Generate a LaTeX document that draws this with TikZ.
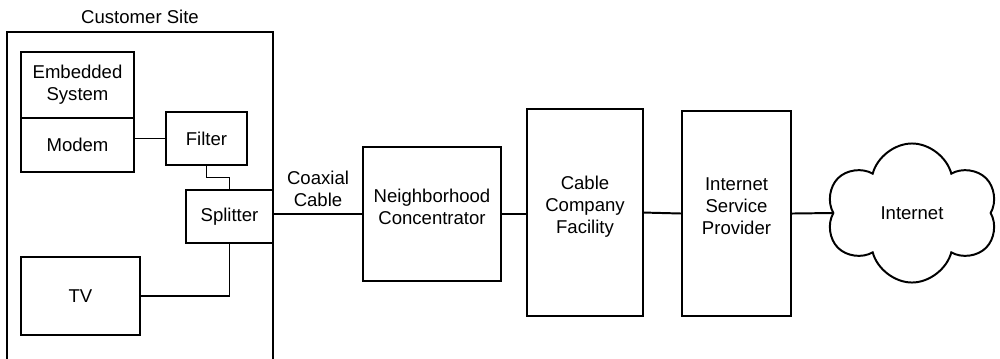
\documentclass[tikz,border=0pt]{standalone}
\usepackage{fontspec}
\setmainfont{Liberation Sans}
\usetikzlibrary{positioning, calc, shapes.symbols}

\begin{document}
\begin{tikzpicture}[
        x=0.025cm, y=-0.025cm,
        line width=1.4pt,
        every node/.style={font=\fontsize{13.2}{15.8}\selectfont},
        box/.style={rectangle, draw, outer sep=0pt, inner sep=0pt, align=center, anchor=north west},
        tag/.style={inner sep=0pt, align=center},
        link/.style={draw, line width=1.4pt},
        net/.style={cloud, cloud puffs=6, draw, outer sep=0pt, inner sep=0pt, align=center},
    ]

    \clip (0,0) rectangle (1000,358);

    % ===== Customer site =====
    \node[box, minimum width=6.65cm, minimum height=8.6cm] (site) at (7,32) {};
    \node[tag, above=0.175cm of site.north] (siteT) {Customer Site};

    \node[box, minimum width=2.825cm, minimum height=1.65cm] (emb) at (21,52) {Embedded\\System};
    \node[box, minimum width=2.825cm, minimum height=1.35cm] (modem) at (emb.south west) {Modem};
    \node[box, minimum width=2.025cm, minimum height=1.325cm] (filter) at (166,112) {Filter};
    \node[box, minimum width=2.175cm, minimum height=1.325cm] (split) at (186,190) {Splitter};
    \node[box, minimum width=2.975cm, minimum height=1.95cm] (tv) at (21,257) {TV};

    \draw[link] (filter.west) -- (filter.west -| modem.east);
    \draw[link] (filter.south) |- ($(filter.south)!0.5!(split.north)$) -| (split.north);
    \draw[link] (split.south) |- (tv.east);

    % ===== Cable network =====
    \node[box, minimum width=3.45cm, minimum height=3.35cm] (nc) at (363,147) {Neighborhood\\Concentrator\\[-5pt]};
    \node[box, minimum width=2.9cm, minimum height=5.175cm] (ccf) at (527,109) {Cable\\Company\\Facility\\[-5pt]};
    \node[box, minimum width=2.725cm, minimum height=5.125cm] (isp) at (682,111) {Internet\\Service\\Provider\\[-5pt]};
    \node[net, minimum width=4.275cm, minimum height=3.475cm] (inet) at (912,213) {Internet};

    \draw[link] (split.east |- nc.west) -- node[tag, midway, above=0.15cm] {Coaxial\\Cable} (nc.west);
    \draw[link] (nc.east) -- (ccf.west |- nc.east);
    \draw[link] (ccf.east) -- (isp.west);
    \draw[link] (isp.east) -- (inet.west);

\end{tikzpicture}
\end{document}
